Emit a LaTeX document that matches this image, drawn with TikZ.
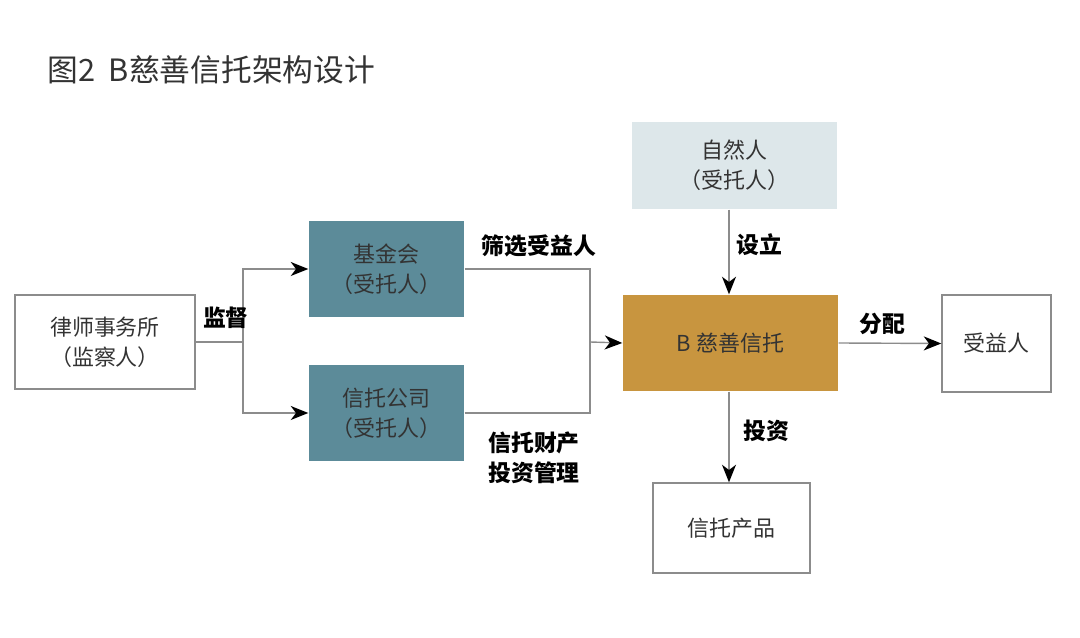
\documentclass[tikz,border=0pt]{standalone}
\usepackage{fontspec}
\setmainfont{Noto Sans CJK SC}
\usepackage{xcolor}
\usepackage{tikz}
\usetikzlibrary{arrows.meta,calc}
\definecolor{tealbox}{HTML}{5C8B99}
\definecolor{palebox}{HTML}{DDE7EA}
\definecolor{goldbox}{HTML}{C8953F}
\definecolor{linegray}{HTML}{8C8C8C}
\definecolor{textgray}{HTML}{333333}
\pgfkeys{tikz/orgbox/.style={rectangle,draw=linegray,line width=0.8pt,align=center,font=\fontsize{12.5}{17}\selectfont,text=textgray,inner sep=0pt}}
\pgfkeys{tikz/orgfill/.style={orgbox,draw=none,fill=#1}}
\pgfkeys{tikz/orgsize/.style 2 args={minimum width=#1*0.02cm,minimum height=#2*0.02cm}}
\pgfkeys{tikz/orgline/.style={draw=linegray,line width=0.8pt}}
\pgfkeys{tikz/orgarrow/.style={orgline,-{Stealth[length=10pt,width=8pt,inset=3pt,black]}}}
\pgfkeys{tikz/orglabel/.style={font=\bfseries\fontsize{13}{17}\selectfont,text=black,align=left}}

\begin{document}
\begin{tikzpicture}[x=0.02cm,y=-0.02cm]
    \useasboundingbox (0,0) rectangle (1080,638);
    \node[font=\fontsize{17.5}{20}\selectfont,text=textgray,anchor=west,inner sep=0pt] (title) at (47,70) {图2\ \ B慈善信托架构设计};
    % boxes
    \node[orgbox,orgsize={180}{94}] (law) at (105,342) {律师事务所\\（监察人）};
    \node[orgfill=tealbox,orgsize={155}{96}] (fund) at (386.5,269) {基金会\\（受托人）};
    \node[orgfill=tealbox,orgsize={155}{96}] (corp) at (386.5,413) {信托公司\\（受托人）};
    \node[orgfill=palebox,orgsize={205}{87}] (person) at (734.5,165.5) {自然人\\（受托人）};
    \node[orgfill=goldbox,orgsize={215}{96}] (trust) at (730.5,343) {B 慈善信托};
    \node[orgbox,orgsize={109}{97}] (benef) at (996.5,343.5) {受益人};
    \node[orgbox,orgsize={157}{90}] (prod) at (731.5,528) {信托产品};
    % supervision
    \coordinate (split) at (243,342);
    \draw[orgline] (law.east) -- (split);
    \draw[orgarrow] (split) |- (fund.west);
    \draw[orgarrow] (split) |- (corp.west);
    % merge into trust
    \coordinate (merge) at (590,342);
    \draw[orgline] (fund.east) -| (merge);
    \draw[orgline] (corp.east) -| (merge);
    \draw[orgarrow] (merge) -- (trust.west);
    % trust links
    \draw[orgarrow] (person.south -| 729,0) -- (trust.north -| 729,0);
    \draw[orgarrow] (trust.east) -- (benef.west);
    \draw[orgarrow] (trust.south -| 729,0) -- (prod.north -| 729,0);
    % labels
    \node[orglabel] (l1) at (226,318) {监督};
    \node[orglabel] (l2) at (539,246) {筛选受益人};
    \node[orglabel] (l3) at (534,458) {信托财产\\投资管理};
    \node[orglabel] (l4) at (759,245) {设立};
    \node[orglabel] (l5) at (882,324) {分配};
    \node[orglabel] (l6) at (766,431) {投资};
\end{tikzpicture}
\end{document}
